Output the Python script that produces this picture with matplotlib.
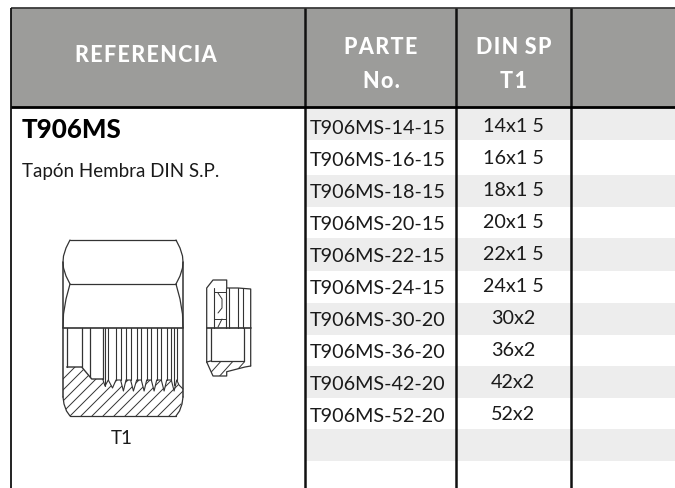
import matplotlib
matplotlib.use("Agg")
import matplotlib.pyplot as plt
from matplotlib.patches import Rectangle, Polygon

plt.rcParams['font.family'] = ['Lato', 'DejaVu Sans']

part_numbers = ["T906MS-14-15", "T906MS-16-15", "T906MS-18-15", "T906MS-20-15", "T906MS-22-15",
                "T906MS-24-15", "T906MS-30-20", "T906MS-36-20", "T906MS-42-20", "T906MS-52-20"]
din_sizes = ["14x1 5", "16x1 5", "18x1 5", "20x1 5", "22x1 5", "24x1 5", "30x2", "36x2", "42x2", "52x2"]
row_edges = [109, 141, 176, 208, 239, 272, 304, 336, 367, 399, 430, 462, 489]
col_edges = [11, 305, 456, 571, 675]

HEAD = '#9C9C9A'
BAND = '#EDEDED'
LINE = '#3A3A3A'

fig = plt.figure(figsize=(6.75, 4.89), dpi=100)
ax = fig.add_axes([0, 0, 1, 1])
ax.set_xlim(0, 675)
ax.set_ylim(489, 0)
ax.axis('off')

ax.add_patch(Rectangle((col_edges[0], 9), 675 - col_edges[0], 99, fc=HEAD, ec='none', zorder=1))
for i in range(len(row_edges) - 1):
    if i % 2 == 0:
        ax.add_patch(Rectangle((col_edges[1], row_edges[i]), 675 - col_edges[1],
                               row_edges[i + 1] - row_edges[i], fc=BAND, ec='none', zorder=1))

ax.plot([col_edges[0], 675], [9.3, 9.3], color=LINE, lw=1.3, zorder=3, solid_capstyle='butt')
ax.plot([col_edges[0], 675], [108, 108], color='black', lw=2.0, zorder=4, solid_capstyle='butt')
for x in col_edges[:4]:
    ax.plot([x, x], [9, 489], color='#111111', lw=1.8 if x != col_edges[0] else 1.3, zorder=3,
            solid_capstyle='butt')

hdr = dict(color='white', fontweight=900, ha='center', va='center', zorder=5)
ax.text(146, 55, "R\u200aE\u200aF\u200aE\u200aR\u200aE\u200aN\u200aC\u200aI\u200aA", fontsize=15.5, **hdr)
ax.text(381, 47, "P\u200aA\u200aR\u200aT\u200aE", fontsize=15.5, **hdr)
ax.text(381, 82, "N\u200ao\u200a.", fontsize=15.5, **hdr)
ax.text(514, 47, "D\u200aI\u200aN\u200a S\u200aP", fontsize=15.5, **hdr)
ax.text(514, 82, "T\u200a1", fontsize=15.5, **hdr)

ax.text(22, 130, "T906MS", fontsize=18.6, fontweight=900, color='black', ha='left', va='center', zorder=5)
ax.text(22, 172, "Tapón Hembra DIN S.P.", fontsize=13.5, color='#1A1A1A', ha='left', va='center', zorder=5)
ax.text(122, 438, "T1", fontsize=13.5, color='#1A1A1A', ha='center', va='center', zorder=5)

for i, (p, d) in enumerate(zip(part_numbers, din_sizes)):
    y = 128 + i * 32.0
    ax.text(310, y, p, fontsize=14.2, color='#1A1A1A', ha='left', va='center', zorder=5)
    ax.text(513, y - 1, d, fontsize=14.2, color='#1A1A1A', ha='center', va='center', zorder=5)

DRAW = dict(color='#333333', lw=0.9, zorder=5, solid_capstyle='round')

def line(xs, ys, **kw):
    style = dict(DRAW)
    style.update(kw)
    return ax.plot(xs, ys, **style)[0]

# main nut outline
line([70, 176], [241, 241])
line([70, 176], [285, 285])
line([63, 183], [328.7, 328.7], lw=1.2)
line([70, 176], [417, 417])
line([70, 66, 63.5, 63, 63.5, 66, 70], [241, 249, 257, 263, 269, 277, 285])
line([176, 180, 182.5, 183, 182.5, 180, 176], [241, 249, 257, 263, 269, 277, 285])
line([70, 66, 63.5, 63], [285, 300, 315, 328.7])
line([176, 180, 182.5, 183], [285, 300, 315, 328.7])
line([63, 63], [263, 398], lw=1.1)
line([183, 183], [263, 398], lw=1.1)
line([63, 64, 66.5, 70], [398, 405, 412, 417])
line([183, 182, 179.5, 176], [398, 405, 412, 417])

# inner bore
line([66.7, 66.7], [328.7, 368])
line([81.7, 81.7], [328.7, 368])
line([90, 90], [328.7, 378])
line([102.7, 102.7], [328.7, 380])
line([66.7, 81.7, 91.7, 102.7], [368, 368, 380, 380], lw=1.0)

# threads: flat crests joined by V roots
crest_left = [116, 126, 136.7, 146.7, 156.7, 166.7]
crest_width = 4.6
zig_x = [102.7, 105, 108.3, 112.5]
zig_y = [380, 387, 381, 389]
line([105, 105], [328.7, 387], lw=0.8)
line([108.3, 108.3], [328.7, 381], lw=0.8)
for cx in crest_left:
    zig_x += [cx, cx + crest_width, cx + crest_width + 2.8]
    zig_y += [381, 381, 392]
    line([cx, cx], [328.7, 381], lw=0.8)
    line([cx + crest_width, cx + crest_width], [328.7, 381], lw=0.8)
zig_x += [176.7, 179, 183]
zig_y += [381, 386, 390]
line([176.7, 176.7], [328.7, 381], lw=0.8)
line([174.3, 174.3], [328.7, 386], lw=0.8)
line(zig_x, zig_y, lw=0.8)

# hatched section of the nut
section_xy = [(63, 368), (81.7, 368), (91.7, 380), (102.7, 380)] + list(zip(zig_x, zig_y)) + \
             [(183, 398), (179.5, 412), (176, 417), (70, 417), (66.5, 412), (63, 398)]
clip = Polygon(section_xy, closed=True, fc='none', ec='none', transform=ax.transData)
ax.add_patch(clip)
for k in range(-4, 13):
    x0 = 70 + 11 * k
    ln = line([x0, x0 + 60], [417, 357], lw=0.7)
    ln.set_clip_path(clip)

# small plug
line([206.7, 206.7, 213, 226.7, 226.7, 238, 250.7, 250.7],
     [363, 289, 281, 281, 289, 289, 290, 367])
line([206.7, 250.7], [328.7, 328.7], lw=1.2)
line([206.7, 213, 226.7, 226.7, 245, 250.7], [363, 377, 377, 372.7, 368, 367])
line([210.7, 210.7, 244, 244], [328.7, 362, 362, 328.7])
line([206.7, 210.7], [363, 362])
for x in [214, 226, 229, 238, 243]:
    line([x, x], [289, 328.7], lw=0.8)
line([214, 226], [293, 293], lw=0.7)
line([214, 226], [320, 320], lw=0.7)
line([218, 222, 222, 218], [294, 300, 309, 314], lw=0.7)
line([218, 222], [328, 320], lw=0.7)
plug_clip = Polygon([(206.7, 363), (244, 362), (250.7, 367), (245, 368), (226.7, 372.7),
                     (226.7, 377), (213, 377)], closed=True, fc='none', ec='none', transform=ax.transData)
ax.add_patch(plug_clip)
for x0 in [205, 217, 229, 241]:
    ln = line([x0, x0 + 18], [380, 360], lw=0.7)
    ln.set_clip_path(plug_clip)

fig.savefig('out.png', dpi=100, facecolor='white')
